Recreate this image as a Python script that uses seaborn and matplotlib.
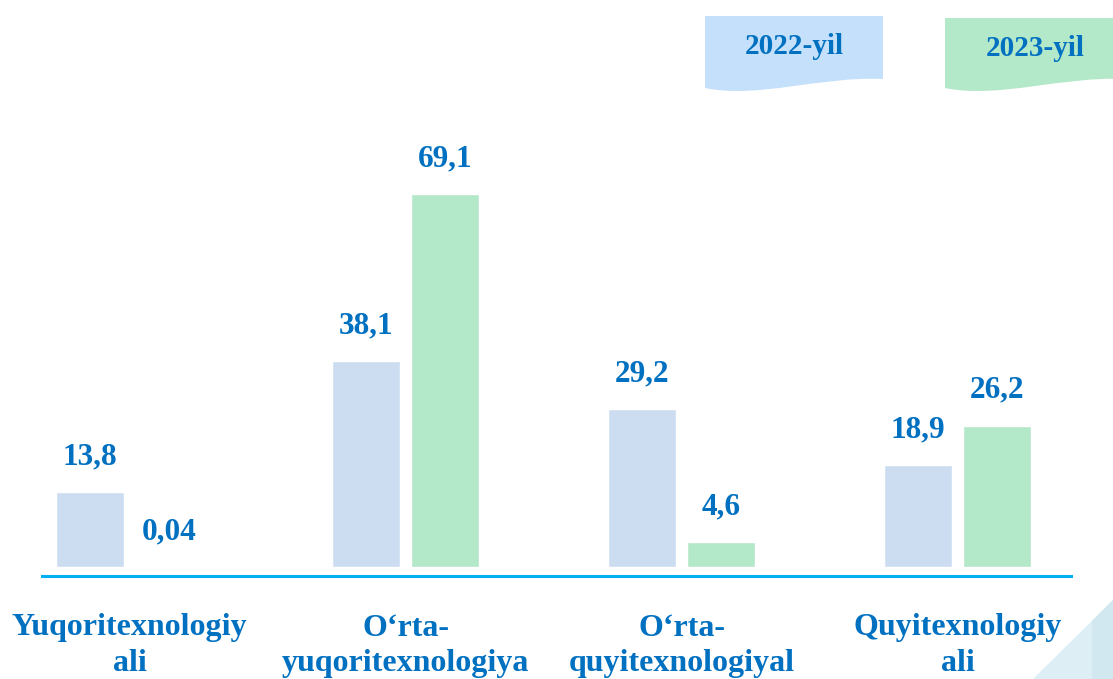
import numpy as np
import pandas as pd
import seaborn as sns
import matplotlib.pyplot as plt
from matplotlib.path import Path
from matplotlib.patches import PathPatch, Polygon

# chart data
categories = ["Yuqoritexnologiy\nali", "O\u2018rta-\nyuqoritexnologiya",
              "O\u2018rta-\nquyitexnologiyal", "Quyitexnologiy\nali"]
years = ["2022-yil", "2023-yil"]
values_2022 = [13.8, 38.1, 29.2, 18.9]
values_2023 = [0.04, 69.1, 4.6, 26.2]
labels_2022 = ["13,8", "38,1", "29,2", "18,9"]
labels_2023 = ["0,04", "69,1", "4,6", "26,2"]

df = pd.DataFrame({
    "category": categories * 2,
    "year": [years[0]] * 4 + [years[1]] * 4,
    "value": values_2022 + values_2023,
})

W, H = 1113, 679
text_color = "#0070C0"
bar_colors = ["#CDDDF1", "#B3E8C9"]
legend_colors = ["#C5E0FA", "#B3E8C9"]

sns.set_theme(style="white")
plt.rcParams['font.family'] = ['Liberation Serif', 'DejaVu Serif']
plt.rcParams['font.weight'] = 'bold'

fig = plt.figure(figsize=(W / 100, H / 100), dpi=100)
ax = fig.add_axes([42 / W, (H - 576) / H, 1029 / W, 456 / H])

sns.barplot(data=df, x="category", y="value", hue="year", palette=bar_colors,
            width=0.575, gap=0.14, saturation=1, legend=False, ax=ax)

px_per_unit = 5.4
ax.set_ylim(-9 / px_per_unit, 447 / px_per_unit)
ax.set_xlim(-0.317, 3.411)

# value labels above bars
for cont, labs in zip(ax.containers, [labels_2022, labels_2023]):
    for bar, lab in zip(cont, labs):
        ax.annotate(lab, (bar.get_x() + bar.get_width() / 2, bar.get_height()),
                    xytext=(0, 20), textcoords="offset points",
                    ha="center", va="baseline", fontsize=22.5,
                    fontweight="bold", color=text_color)

for s in ["top", "left", "right"]:
    ax.spines[s].set_visible(False)
ax.spines["bottom"].set_color("#00B0F0")
ax.spines["bottom"].set_linewidth(2.2)
ax.set_yticks([])
ax.set_xlabel("")
ax.set_ylabel("")
ax.tick_params(axis="x", length=0, pad=27)
ax.set_xticks(range(len(categories)))
ax.set_xticklabels(categories, fontsize=23, fontweight="bold",
                   color=text_color, linespacing=1.3)


def to_fig(x, y):
    return (x / W, 1 - y / H)


# legend banners with wavy bottom
def banner(x0, x1, y0, color):
    w = x1 - x0
    pts = [(x0, y0), (x1, y0), (x1, 79),
           (x1 - 0.35 * w, 76), (x0 + 0.3 * w, 99), (x0, 88), (x0, y0)]
    codes = [Path.MOVETO, Path.LINETO, Path.LINETO,
             Path.CURVE4, Path.CURVE4, Path.CURVE4, Path.CLOSEPOLY]
    path = Path([to_fig(*p) for p in pts], codes)
    fig.add_artist(PathPatch(path, facecolor=color, edgecolor="none",
                             transform=fig.transFigure))


banner(705, 883, 16, legend_colors[0])
banner(945, 1125, 18, legend_colors[1])
fig.text(*to_fig(794, 46), years[0], ha="center", va="center",
         fontsize=21, fontweight="bold", color=text_color)
fig.text(*to_fig(1035, 48), years[1], ha="center", va="center",
         fontsize=21, fontweight="bold", color=text_color)

# corner decoration
fig.add_artist(Polygon([to_fig(1033, 679), to_fig(1113, 600), to_fig(1113, 679)],
                       closed=True, facecolor="#DDEFF5", edgecolor="none",
                       transform=fig.transFigure))
fig.add_artist(Polygon([to_fig(1092, 679), to_fig(1092, 621), to_fig(1113, 600),
                        to_fig(1113, 679)],
                       closed=True, facecolor="#D1E8F0", edgecolor="none",
                       transform=fig.transFigure))

fig.savefig("out.png", dpi=100)
